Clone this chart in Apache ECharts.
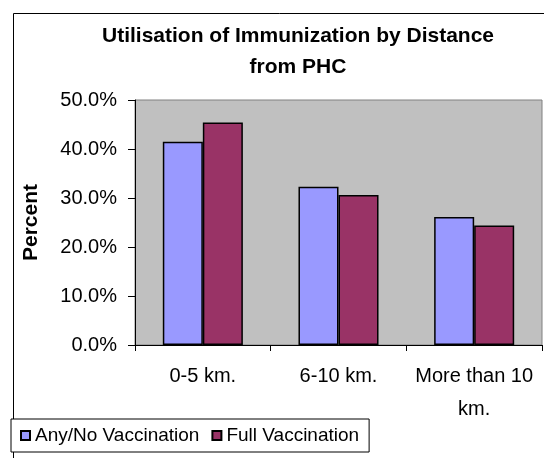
<!DOCTYPE html>
<html>
<head>
<meta charset="utf-8">
<script src="https://cdn.jsdelivr.net/npm/echarts@6/dist/echarts.min.js"></script>
<style>
  html, body { margin: 0; padding: 0; background: #ffffff; }
  #chart { width: 544px; height: 458px; }
</style>
</head>
<body>
<div id="chart"></div>
<script>
// Distance bands from the PHC
const categories = ['0-5 km.', '6-10 km.', 'More than 10\nkm.'];
// Share of children (fraction) in each band
const anyNoVaccination = [0.415, 0.323, 0.261];
const fullVaccination = [0.454, 0.306, 0.244];
const seriesNames = ['Any/No Vaccination', 'Full Vaccination'];
const titleText = 'Utilisation of Immunization by Distance\nfrom PHC';
const yAxisName = 'Percent';

const FONT = '"Liberation Sans", Arial, sans-serif';

const chart = echarts.init(document.getElementById('chart'), null, { renderer: 'canvas' });

chart.setOption({
  animation: false,
  backgroundColor: '#ffffff',
  textStyle: { fontFamily: FONT },
  graphic: [{
    type: 'rect',
    left: 11, top: 11,
    shape: { width: 600, height: 600 },
    style: { fill: 'none', stroke: '#000000', lineWidth: 1 },
    z: -1
  }],
  title: {
    text: titleText,
    left: 293,
    top: 16,
    textAlign: 'center',
    textStyle: {
      fontFamily: FONT,
      fontSize: 21,
      fontWeight: 'bold',
      color: '#000000',
      lineHeight: 31,
      align: 'center'
    }
  },
  legend: {
    left: 11,
    top: 419,
    orient: 'horizontal',
    padding: [7, 10, 7, 9],
    itemGap: 12,
    itemWidth: 9,
    itemHeight: 9,
    icon: 'rect',
    borderColor: '#000000',
    borderWidth: 1,
    backgroundColor: '#ffffff',
    textStyle: { fontFamily: FONT, fontSize: 19, color: '#000000' },
    data: seriesNames
  },
  grid: {
    left: 135,
    top: 100,
    right: 2,
    bottom: 113,
    show: true,
    backgroundColor: '#C0C0C0',
    borderColor: '#808080',
    borderWidth: 1
  },
  xAxis: {
    type: 'category',
    data: categories,
    axisLine: { lineStyle: { color: '#000000', width: 1 } },
    axisTick: { show: true, alignWithLabel: false, length: 6, lineStyle: { color: '#000000' } },
    axisLabel: {
      interval: 0,
      margin: 15,
      fontFamily: FONT,
      fontSize: 20,
      color: '#000000',
      lineHeight: 33,
      align: 'center'
    }
  },
  yAxis: {
    type: 'value',
    min: 0,
    max: 0.5,
    interval: 0.1,
    name: yAxisName,
    nameLocation: 'middle',
    nameRotate: 90,
    nameGap: 93,
    nameTextStyle: { fontFamily: FONT, fontSize: 21, fontWeight: 'bold', color: '#000000' },
    axisLine: { show: true, lineStyle: { color: '#000000', width: 1 } },
    axisTick: { show: true, length: 7, lineStyle: { color: '#000000' } },
    splitLine: { show: false },
    axisLabel: {
      margin: 18,
      fontFamily: FONT,
      fontSize: 20,
      color: '#000000',
      formatter: v => (v * 100).toFixed(1) + '%'
    }
  },
  series: [
    {
      name: seriesNames[0],
      type: 'bar',
      data: anyNoVaccination,
      barGap: '0%',
      barCategoryGap: '41%',
      itemStyle: { color: '#9999FF', borderColor: '#000000', borderWidth: 1.5 }
    },
    {
      name: seriesNames[1],
      type: 'bar',
      data: fullVaccination,
      itemStyle: { color: '#993366', borderColor: '#000000', borderWidth: 1.5 }
    }
  ]
});
</script>
</body>
</html>
